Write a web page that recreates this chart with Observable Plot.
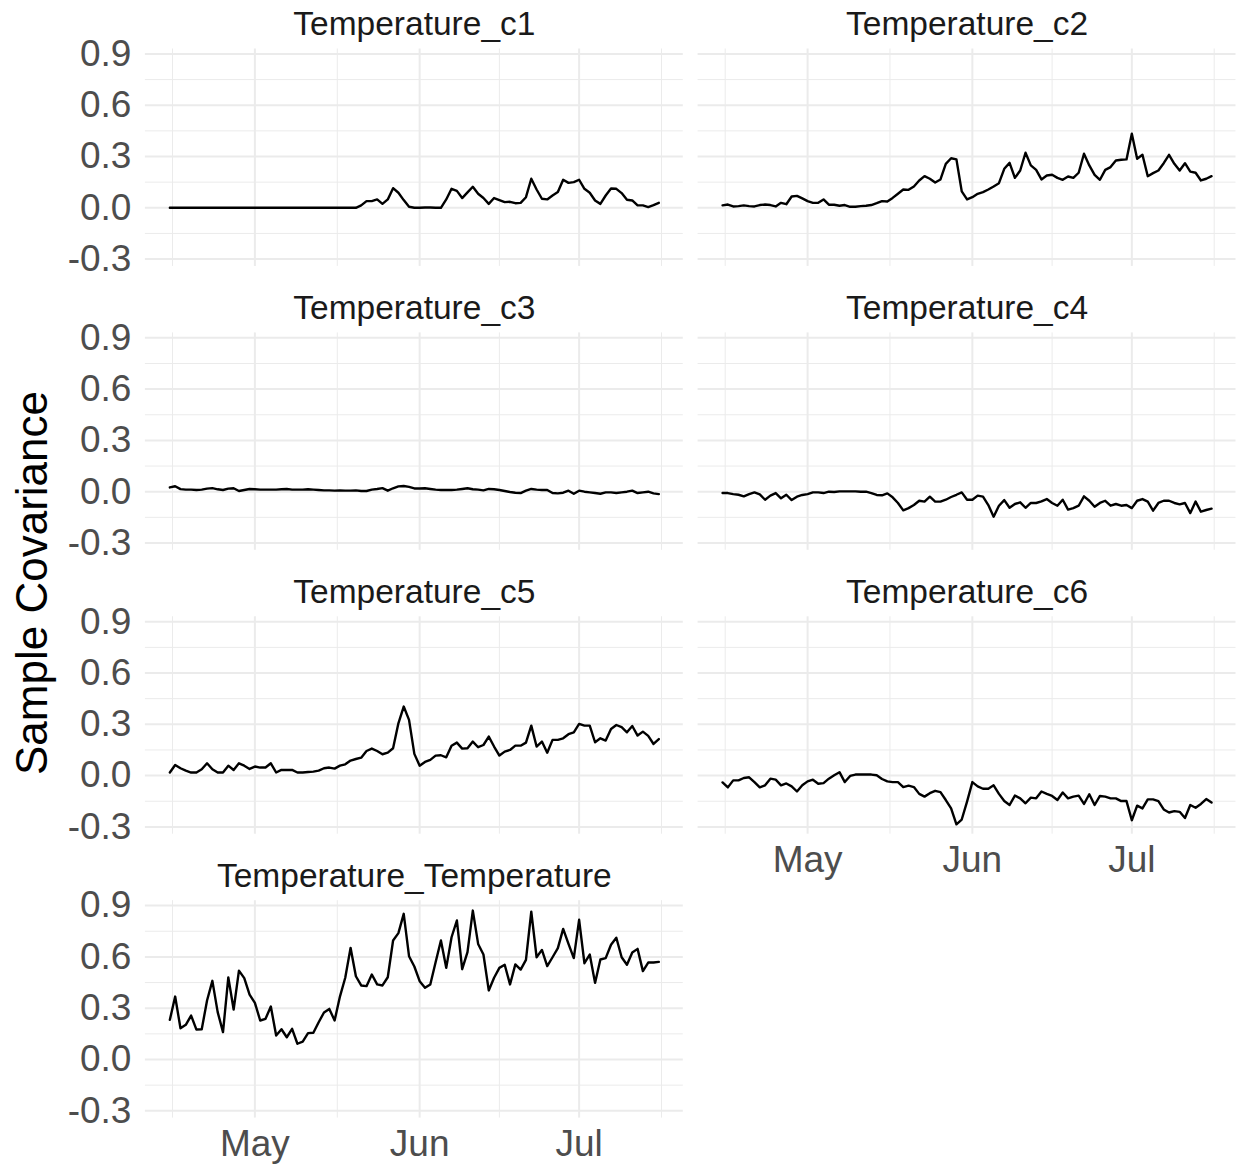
<!DOCTYPE html>
<html>
<head>
<meta charset="utf-8">
<script src="https://cdn.jsdelivr.net/npm/d3@7"></script>
<script src="https://cdn.jsdelivr.net/npm/@observablehq/plot@0.6"></script>
<style>
  html, body { margin: 0; padding: 0; background: #ffffff; }
  #wrap { position: relative; width: 1238px; height: 1166px; overflow: hidden; font-family: "Liberation Sans", Arial, Helvetica, sans-serif; }
  #ytitle { position: absolute; left: 32px; top: 583px; transform: translate(-50%, -50%) rotate(-90deg);
            font-size: 44px; line-height: 1; color: #000000; white-space: nowrap; }
</style>
</head>
<body>
<div id="wrap"><div id="ytitle">Sample Covariance</div></div>
<script>
// ---------------- data ----------------
const panelNames = ["Temperature_c1", "Temperature_c2", "Temperature_c3", "Temperature_c4",
                    "Temperature_c5", "Temperature_c6", "Temperature_Temperature"];
const firstDay = "2021-04-15";   // daily observations, 93 days (Apr 15 – Jul 16)
const nDays = 93;

const c1 = [0,0,0,0,0,0,0,0,0,0, 0,0,0,0,0,0,0,0,0,0, 0,0,0,0,0,0,0,0,0,0, 0,0,0,0,0,0,
  0.014,0.039,0.039,0.049,0.023,0.049,0.115,0.088,0.045,0.006,
  0.000,0.000,0.002,0.002,0.000,0.000,0.049,0.111,0.099,0.057,
  0.090,0.123,0.082,0.057,0.023,0.057,0.045,0.033,0.035,0.027,
  0.029,0.062,0.170,0.107,0.053,0.049,0.072,0.092,0.164,0.146,
  0.150,0.164,0.111,0.088,0.043,0.023,0.072,0.113,0.111,0.086,
  0.047,0.043,0.014,0.014,0.004,0.016,0.029];

const c2 = [0.014,0.019,0.008,0.010,0.014,0.010,0.008,0.016,0.019,0.016,
  0.008,0.029,0.021,0.066,0.070,0.055,0.039,0.029,0.029,0.049,
  0.018,0.018,0.012,0.016,0.006,0.006,0.010,0.012,0.016,0.027,
  0.039,0.037,0.058,0.082,0.107,0.105,0.125,0.160,0.185,0.170,
  0.148,0.166,0.257,0.290,0.283,0.096,0.049,0.062,0.082,0.092,
  0.107,0.125,0.144,0.228,0.263,0.175,0.218,0.322,0.248,0.222,
  0.166,0.189,0.193,0.175,0.164,0.183,0.175,0.205,0.316,0.248,
  0.193,0.164,0.222,0.238,0.277,0.281,0.283,0.433,0.287,0.310,
  0.185,0.203,0.218,0.261,0.310,0.257,0.218,0.261,0.212,0.205,
  0.160,0.170,0.185];

const c3 = [0.025,0.032,0.015,0.012,0.012,0.010,0.012,0.018,0.021,0.014,
  0.010,0.018,0.020,0.004,0.010,0.016,0.014,0.012,0.012,0.012,
  0.012,0.014,0.016,0.012,0.012,0.012,0.014,0.012,0.010,0.008,
  0.008,0.006,0.008,0.006,0.006,0.008,0.004,0.004,0.012,0.016,
  0.021,0.006,0.020,0.031,0.033,0.028,0.019,0.019,0.020,0.016,
  0.012,0.010,0.010,0.010,0.012,0.016,0.020,0.014,0.012,0.008,
  0.016,0.014,0.010,0.004,-0.002,-0.006,-0.008,0.006,0.016,0.012,
  0.010,0.010,-0.008,-0.010,-0.006,0.006,-0.012,0.006,0.000,-0.004,
  -0.008,-0.012,-0.004,-0.004,-0.008,-0.004,0.000,0.006,-0.008,-0.004,
  0.000,-0.010,-0.014];

const c4 = [-0.008,-0.008,-0.014,-0.018,-0.027,-0.014,-0.004,-0.016,-0.047,-0.023,
  -0.008,-0.039,-0.018,-0.049,-0.029,-0.019,-0.014,-0.004,-0.004,-0.008,
  0.000,-0.002,0.002,0.002,0.002,0.002,0.000,0.000,-0.008,-0.019,
  -0.021,-0.010,-0.033,-0.066,-0.109,-0.096,-0.078,-0.053,-0.058,-0.029,
  -0.058,-0.058,-0.047,-0.031,-0.018,-0.004,-0.047,-0.047,-0.023,-0.029,
  -0.078,-0.146,-0.082,-0.049,-0.094,-0.072,-0.062,-0.094,-0.066,-0.066,
  -0.057,-0.043,-0.066,-0.082,-0.047,-0.105,-0.096,-0.082,-0.027,-0.053,
  -0.088,-0.066,-0.053,-0.082,-0.072,-0.082,-0.078,-0.096,-0.053,-0.043,
  -0.058,-0.111,-0.066,-0.053,-0.053,-0.066,-0.074,-0.066,-0.125,-0.058,
  -0.117,-0.107,-0.099];

const c5 = [0.018,0.062,0.043,0.029,0.018,0.018,0.037,0.072,0.037,0.018,
  0.018,0.058,0.033,0.072,0.058,0.039,0.053,0.047,0.047,0.072,
  0.018,0.033,0.033,0.033,0.018,0.018,0.021,0.023,0.029,0.043,
  0.047,0.041,0.058,0.066,0.088,0.097,0.105,0.144,0.158,0.144,
  0.125,0.134,0.160,0.306,0.404,0.326,0.127,0.058,0.080,0.092,
  0.117,0.119,0.107,0.175,0.193,0.158,0.160,0.199,0.166,0.179,
  0.228,0.170,0.117,0.140,0.150,0.175,0.175,0.193,0.292,0.170,
  0.199,0.134,0.209,0.209,0.218,0.242,0.253,0.302,0.292,0.292,
  0.195,0.218,0.205,0.273,0.296,0.283,0.253,0.290,0.234,0.257,
  0.232,0.185,0.214];

const c6 = [-0.040,-0.069,-0.028,-0.028,-0.014,-0.010,-0.038,-0.069,-0.057,-0.018,
  -0.024,-0.057,-0.046,-0.063,-0.093,-0.057,-0.034,-0.024,-0.048,-0.044,
  -0.018,0.002,0.020,-0.038,-0.002,0.006,0.006,0.006,0.006,0.002,
  -0.020,-0.034,-0.038,-0.038,-0.067,-0.059,-0.067,-0.107,-0.123,-0.103,
  -0.089,-0.097,-0.143,-0.192,-0.285,-0.257,-0.152,-0.038,-0.063,-0.077,
  -0.077,-0.057,-0.107,-0.149,-0.172,-0.117,-0.133,-0.162,-0.129,-0.133,
  -0.093,-0.107,-0.119,-0.143,-0.099,-0.133,-0.123,-0.117,-0.166,-0.109,
  -0.172,-0.119,-0.123,-0.133,-0.133,-0.149,-0.149,-0.261,-0.176,-0.192,
  -0.139,-0.139,-0.149,-0.198,-0.216,-0.208,-0.212,-0.248,-0.172,-0.188,
  -0.166,-0.137,-0.158];

const tempTemp = [0.232,0.368,0.183,0.203,0.257,0.175,0.177,0.345,0.460,0.277,
  0.160,0.480,0.292,0.520,0.476,0.380,0.331,0.228,0.238,0.310,
  0.140,0.177,0.130,0.179,0.092,0.105,0.154,0.156,0.218,0.275,
  0.296,0.228,0.368,0.478,0.653,0.487,0.433,0.429,0.497,0.439,
  0.433,0.481,0.696,0.739,0.852,0.604,0.544,0.458,0.419,0.439,
  0.569,0.696,0.536,0.715,0.813,0.528,0.628,0.871,0.676,0.614,
  0.404,0.478,0.536,0.554,0.439,0.556,0.526,0.583,0.865,0.598,
  0.641,0.546,0.598,0.651,0.764,0.676,0.593,0.817,0.563,0.614,
  0.448,0.585,0.593,0.671,0.712,0.598,0.554,0.626,0.647,0.517,
  0.567,0.567,0.571];

const yTicks = [-0.3, 0, 0.3, 0.6, 0.9];
const yMinor = [-0.15, 0.15, 0.45, 0.75];
const monthTicks = ["2021-05-01", "2021-06-01", "2021-07-01"];
const monthLabels = ["May", "Jun", "Jul"];
const minorDates = ["2021-04-15T12:00Z", "2021-05-16T12:00Z", "2021-06-16T00:00Z", "2021-07-16T12:00Z"];

// ---------------- build table ----------------
const seriesList = [c1, c2, c3, c4, c5, c6, tempTemp];
const start = new Date(firstDay + "T00:00Z");
const dates = d3.range(nDays).map(i => d3.utcDay.offset(start, i));
const panels = panelNames.map((name, i) => ({name, col: i % 2, row: Math.floor(i / 2)}));
const rows = [];
seriesList.forEach((vals, i) => {
  vals.forEach((v, j) => rows.push({panel: panelNames[i], col: i % 2, row: Math.floor(i / 2), date: dates[j], value: v}));
});

const allVals = seriesList.flat();
const vmin = d3.min(allVals), vmax = d3.max(allVals);
const yExp = (vmax - vmin) * 0.05;
const spanMs = dates[dates.length - 1] - dates[0];
const xDomain = [new Date(+dates[0] - spanMs * 0.05), new Date(+dates[dates.length - 1] + spanMs * 0.05)];

const majorDates = monthTicks.map(s => new Date(s + "T00:00Z"));
const minorD = minorDates.map(s => new Date(s));
const grid = "#EBEBEB";

const chart = Plot.plot({
  width: 1238,
  height: 1166,
  marginLeft: 144.9,
  marginRight: 2.5,
  marginTop: 48.5,
  marginBottom: 48.4,
  style: {fontFamily: '"Liberation Sans", Arial, Helvetica, sans-serif', background: "#ffffff", overflow: "visible"},
  fx: {domain: [0, 1], paddingInner: 0.0268, paddingOuter: 0, round: false, axis: null},
  fy: {domain: [0, 1, 2, 3], paddingInner: 0.2342, paddingOuter: 0, round: false, axis: null},
  x: {type: "utc", domain: xDomain},
  y: {domain: [vmin - yExp, vmax + yExp]},
  marks: [
    Plot.gridY(yMinor, {stroke: grid, strokeOpacity: 1, strokeWidth: 1}),
    Plot.gridX(minorD, {stroke: grid, strokeOpacity: 1, strokeWidth: 1}),
    Plot.gridY(yTicks, {stroke: grid, strokeOpacity: 1, strokeWidth: 2}),
    Plot.gridX(majorDates, {stroke: grid, strokeOpacity: 1, strokeWidth: 2}),
    Plot.lineY(rows, {x: "date", y: "value", fx: "col", fy: "row", stroke: "#000000", strokeWidth: 2.4}),
    Plot.text(panels, {fx: "col", fy: "row", text: "name", frameAnchor: "top", dy: -14,
                       lineAnchor: "bottom", textAnchor: "middle", fontSize: 33.5, fill: "#1A1A1A"}),
    Plot.axisY(yTicks, {tickSize: 0, tickPadding: 14, fontSize: 37, color: "#4D4D4D",
                        tickFormat: d => d.toFixed(1), label: null, facetAnchor: "left"}),
    Plot.axisX(majorDates, {tickSize: 0, tickPadding: 12, fontSize: 37, color: "#4D4D4D",
                            tickFormat: (d, i) => monthLabels[i], label: null, facetAnchor: "bottom-empty"})
  ]
});
document.getElementById("wrap").prepend(chart);
</script>
</body>
</html>
